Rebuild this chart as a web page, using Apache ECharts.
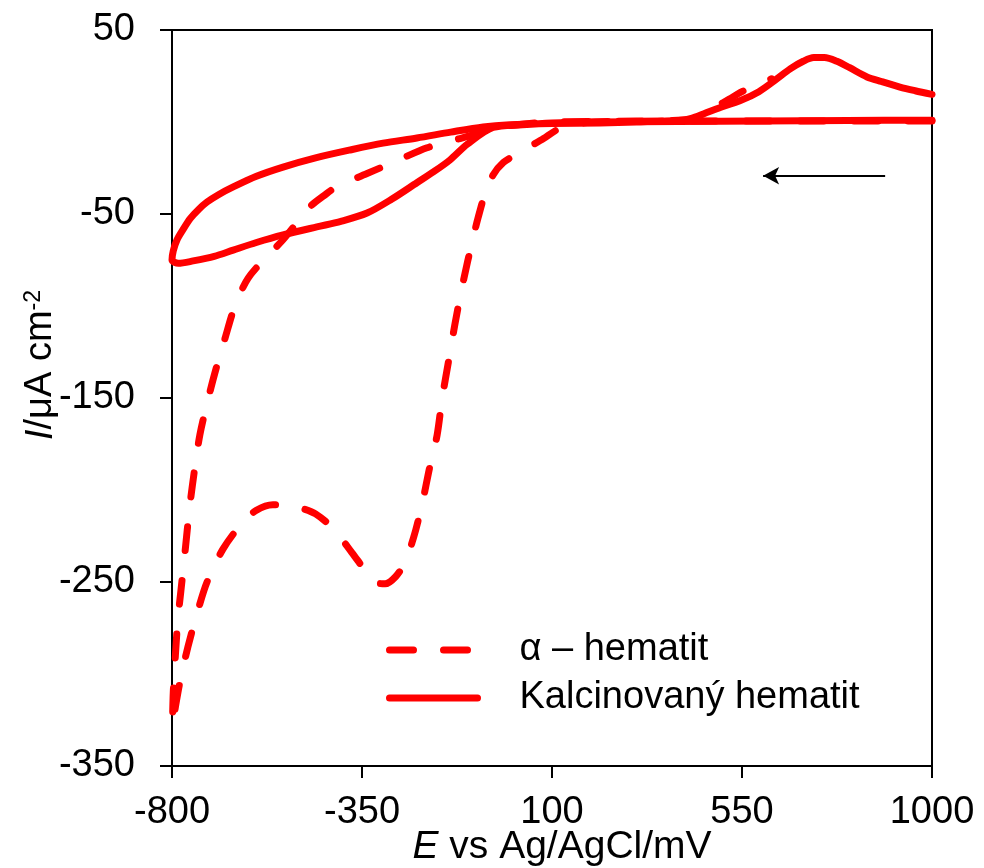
<!DOCTYPE html>
<html>
<head>
<meta charset="utf-8">
<script src="https://cdn.jsdelivr.net/npm/echarts@6/dist/echarts.min.js"></script>
<style>
html,body{margin:0;padding:0;background:#fff;}
#c{width:984px;height:868px;}
</style>
</head>
<body>
<div id="c"></div>
<script>
// ---- data (E in mV, I in µA cm^-2) ----
const xTicks = [-800, -350, 100, 550, 1000];
const yTicks = [-350, -250, -150, -50, 50];

const alphaName = 'α – hematit';
const alphaE = [1000, 700, 400, 200, 150, 110, 80, 50, 20, -15, -40, -60, -75, -87, -100, -115, -130, -145, -160, -172, -190, -208, -228, -250, -270, -295, -320, -345, -374, -418, -460, -492, -530, -561, -600, -634, -679, -717, -738, -762, -780, -792, -799,
  -797, -792, -786, -779, -772, -764, -757, -746, -734, -716, -698, -675, -651, -620, -575, -537, -505, -473, -440, -409, -338, -267, -196, -118, -50, 0, 100, 300, 430, 460, 490, 520, 550, 585, 620];
const alphaI = [0.5, 0.5, 0.5, 0, -1.5, -4.5, -9, -13, -17, -22, -29, -40, -52, -63, -76, -92, -110, -130, -150, -170, -188, -208, -226, -240, -247, -251, -250, -243, -234, -221, -213, -210, -208, -208, -211, -218, -232, -250, -265, -285, -303, -318, -328,
  -310, -290, -270, -255, -240, -222, -207, -188, -170, -152, -136, -118, -100, -85, -73, -64, -55, -46, -40, -35, -28, -21, -14, -9, -4.5, -2, 0, 0.5, 1.5, 4.5, 8.5, 12.5, 16.5, 20, 23.5];

const kalcName = 'Kalcinovaný hematit';
const kalcE = [1000, 800, 600, 400, 200, 100, 30, -40, -100, -142, -180, -220, -280, -338, -400, -457, -537, -600, -655, -700, -750, -785, -800,
  -797, -788, -774, -757, -737, -717, -690, -655, -600, -537, -460, -378, -300, -220, -140, -63, 0, 100, 214, 300, 400, 430, 460, 500, 545, 590, 630, 665, 695, 720, 745, 775, 805, 846, 880, 924, 960, 1000];
const kalcI = [1, 0.8, 0.5, 0.3, 0, -0.5, -1.5, -3, -12, -20.7, -27, -33, -42, -49.5, -54, -57, -61.4, -65.5, -69.6, -73, -75.5, -76.8, -75,
  -70, -64, -58.5, -52.5, -47.5, -43.5, -39.5, -35.3, -29.5, -24.5, -19.5, -15.2, -11.5, -8.7, -5.5, -2.7, -1.5, -0.8, -0.5, 0, 0.8, 2, 4.5, 8, 11.5, 16.5, 23, 29, 33, 35, 35, 33, 29.5, 24.5, 22, 19, 17, 15];

const arrowFrom = [889, -29.2];
const arrowTo = [600, -29.2];

const zip = (xs, ys) => xs.map((x, i) => [x, ys[i]]);

const FONT = '"Liberation Sans", Arial, sans-serif';
const RED = '#ff0000';

const chart = echarts.init(document.getElementById('c'), null, {renderer: 'canvas'});
chart.setOption({
  animation: false,
  backgroundColor: '#fff',
  grid: {left: 172, right: 52, top: 30, bottom: 102, containLabel: false, outerBoundsMode: 'none',
    show: true, borderColor: '#000', borderWidth: 2, backgroundColor: 'transparent'},
  legend: {
    orient: 'vertical', left: 386, top: 631, padding: 0,
    itemWidth: 88, itemHeight: 14, itemGap: 10,
    itemStyle: {opacity: 0},
    lineStyle: {width: 7, cap: 'round'},
    textStyle: {fontFamily: FONT, fontSize: 38, color: '#000', padding: [0, 0, 0, 37]},
    data: [alphaName, kalcName]
  },
  xAxis: {
    type: 'value', min: -800, max: 1000,
    name: '{i|E}{n| vs Ag/AgCl/mV}', nameLocation: 'middle', nameGap: 62, nameMoveOverlap: false,
    nameTextStyle: {padding: [0, 0, 0, 20], rich: {
      i: {fontFamily: FONT, fontSize: 39, fontStyle: 'italic', color: '#000'},
      n: {fontFamily: FONT, fontSize: 39, color: '#000'}
    }},
    axisLine: {show: true, onZero: false, lineStyle: {color: '#000', width: 2}},
    axisTick: {show: true, inside: false, length: 12, customValues: xTicks, lineStyle: {color: '#000', width: 2}},
    axisLabel: {customValues: xTicks, margin: 28, fontFamily: FONT, fontSize: 38, color: '#000', formatter: v => String(v)},
    splitLine: {show: false}
  },
  yAxis: {
    type: 'value', min: -350, max: 50,
    name: '{i|I}{n|/μA cm}{s|-2}', nameLocation: 'middle', nameGap: 112, nameMoveOverlap: false,
    nameTextStyle: {padding: [0, 0, 0, 66], rich: {
      i: {fontFamily: FONT, fontSize: 38, fontStyle: 'italic', color: '#000'},
      n: {fontFamily: FONT, fontSize: 38, color: '#000'},
      s: {fontFamily: FONT, fontSize: 23, color: '#000', verticalAlign: 'top'}
    }},
    axisLine: {show: true, onZero: false, lineStyle: {color: '#000', width: 2}},
    axisTick: {show: true, inside: false, length: 12, customValues: yTicks, lineStyle: {color: '#000', width: 2}},
    axisLabel: {customValues: yTicks, margin: 37, fontFamily: FONT, fontSize: 38, color: '#000', formatter: v => String(v)},
    splitLine: {show: false}
  },
  series: [
    {
      name: alphaName, type: 'line', data: zip(alphaE, alphaI),
      showSymbol: false, symbol: 'none', smooth: 0.3, clip: false,
      lineStyle: {color: RED, width: 7, type: [24, 30], cap: 'round', join: 'round'},
      itemStyle: {color: RED}
    },
    {
      name: kalcName, type: 'line', data: zip(kalcE, kalcI),
      showSymbol: false, symbol: 'none', smooth: 0.3, clip: false,
      lineStyle: {color: RED, width: 7, type: 'solid', cap: 'round', join: 'round'},
      itemStyle: {color: RED},
      markLine: {
        silent: true, symbol: ['none', 'arrow'], symbolSize: [13, 16],
        label: {show: false},
        lineStyle: {color: '#000', width: 2, type: 'solid'},
        data: [[{coord: arrowFrom}, {coord: arrowTo}]]
      }
    }
  ]
});
</script>
</body>
</html>
